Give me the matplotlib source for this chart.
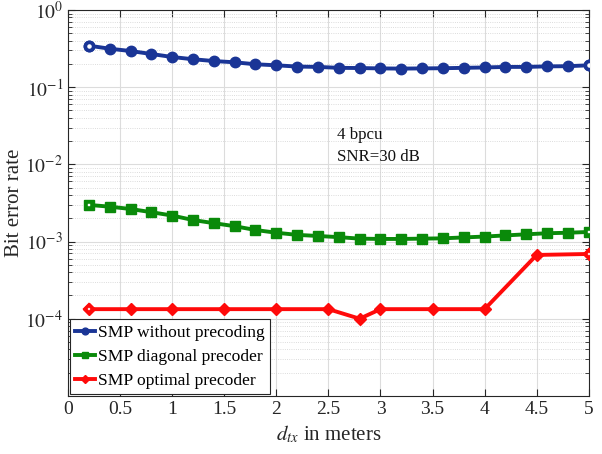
import matplotlib
matplotlib.use("Agg")
import matplotlib.pyplot as plt
import numpy as np
from matplotlib.ticker import LogLocator, NullFormatter

plt.rcParams['font.family'] = ['Liberation Serif', 'DejaVu Serif']
plt.rcParams['mathtext.fontset'] = 'stix'

x_blue = [0.2, 0.4, 0.6, 0.8, 1.0, 1.2, 1.4, 1.6, 1.8, 2.0, 2.2, 2.4, 2.6, 2.8, 3.0,
          3.2, 3.4, 3.6, 3.8, 4.0, 4.2, 4.4, 4.6, 4.8, 5.0]
ber_blue = [0.345, 0.315, 0.294, 0.269, 0.246, 0.230, 0.218, 0.210, 0.198, 0.192, 0.185,
            0.183, 0.178, 0.177, 0.175, 0.174, 0.175, 0.176, 0.178, 0.180, 0.183, 0.183,
            0.186, 0.187, 0.192]
x_green = x_blue
ber_green = [0.00298, 0.00283, 0.00264, 0.00240, 0.00217, 0.00190, 0.00173, 0.00158,
             0.00141, 0.00130, 0.00122, 0.00118, 0.00114, 0.00109, 0.00108, 0.00108,
             0.00109, 0.00110, 0.00113, 0.00116, 0.00120, 0.00124, 0.00128, 0.00130, 0.00133]
x_red = [0.2, 0.6, 1.0, 1.5, 2.0, 2.5, 2.8, 3.0, 3.5, 4.0, 4.5, 5.0]
ber_red = [1.33e-4, 1.33e-4, 1.33e-4, 1.33e-4, 1.33e-4, 1.33e-4, 1.0e-4, 1.33e-4,
           1.33e-4, 1.33e-4, 6.7e-4, 6.9e-4]
labels = ['SMP without precoding', 'SMP diagonal precoder', 'SMP optimal precoder']
xtick_labels = ['0', '0.5', '1', '1.5', '2', '2.5', '3', '3.5', '4', '4.5', '5']

c_blue = '#1a3596'
c_green = '#0a8a0a'
c_red = '#ff0a0a'

fig = plt.figure(figsize=(6.02, 4.54), dpi=100)
ax = fig.add_axes([0.113, 0.128, 0.865, 0.850])

series = [(x_blue, ber_blue, c_blue, 'o', 7.5), (x_green, ber_green, c_green, 's', 6.5),
          (x_red, ber_red, c_red, 'D', 6)]
for (xs, ys, c, m, ms), lab in zip(series, labels):
    ax.semilogy(xs, ys, color=c, marker=m, markersize=ms, linewidth=2.8, label=lab,
                zorder=3)
    ax.plot([xs[0], xs[-1]], [ys[0], ys[-1]], linestyle='none', marker=m,
            markersize=ms - 1.6, markerfacecolor='white', markeredgecolor=c,
            markeredgewidth=2.6, zorder=4)

ax.set_xlim(0, 5)
ax.set_ylim(1e-5, 1)
ax.set_xticks(np.arange(0, 5.01, 0.5))
ax.set_xticklabels(xtick_labels)
ax.set_yticks([1e-4, 1e-3, 1e-2, 1e-1, 1e0])
ax.set_yticklabels([r'$10^{-4}$', r'$10^{-3}$', r'$10^{-2}$', r'$10^{-1}$', r'$10^{0}$'])
ax.yaxis.set_minor_locator(LogLocator(base=10, subs=np.arange(2, 10), numticks=20))
ax.yaxis.set_minor_formatter(NullFormatter())

ax.grid(True, which='major', color='#dcdcdc', linewidth=0.8, linestyle='-')
ax.grid(True, which='minor', axis='y', color='#d0d0d0', linewidth=0.6, linestyle=':')
ax.set_axisbelow(True)

ax.tick_params(which='both', direction='in', top=True, right=True, labelsize=14,
               colors='#262626')
ax.tick_params(which='major', length=5)
ax.tick_params(which='minor', length=3)
for s in ax.spines.values():
    s.set_color('#262626')
    s.set_linewidth(0.8)

ax.set_xlabel(r'$d_{tx}$ in meters', fontsize=15, color='#262626')
ax.set_ylabel('Bit error rate', fontsize=15, color='#262626')
ax.yaxis.set_label_coords(-0.085, 0.5)
ax.text(2.58, 0.0175, '4 bpcu\nSNR=30 dB', fontsize=12.2, color='#111111',
        va='center', ha='left', linespacing=1.5)

leg = ax.legend(loc='lower left', fontsize=12.6, frameon=True, fancybox=False,
                borderaxespad=0.1, handlelength=1.15, handletextpad=0.15,
                borderpad=0.3, labelspacing=0.45, markerscale=0.65)
leg.get_frame().set_edgecolor('#262626')
leg.get_frame().set_linewidth(0.8)
leg.get_frame().set_alpha(1)

fig.savefig('out.png', dpi=100)
